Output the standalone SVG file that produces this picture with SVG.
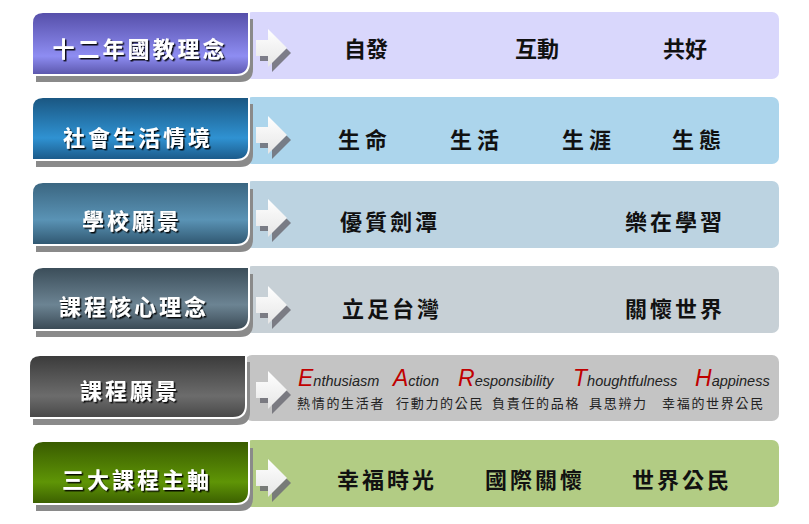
<svg xmlns="http://www.w3.org/2000/svg" width="809" height="524" viewBox="0 0 809 524">
<style>
.lbl{font-family:"Noto Sans CJK TC","Noto Sans CJK SC",sans-serif;font-weight:700;font-size:22px;fill:#ffffff;letter-spacing:3px;text-anchor:middle;dominant-baseline:central;filter:url(#ts)}
.itm{font-family:"Noto Sans CJK TC","Noto Sans CJK SC",sans-serif;font-weight:700;font-size:22px;fill:#111111;dominant-baseline:central}
.en{font-family:"Liberation Sans",Arial,sans-serif;font-style:italic;font-size:14.5px;fill:#222222}
.cap{font-size:23px;fill:#c00000}
.zh{font-family:"Noto Sans CJK TC","Noto Sans CJK SC",sans-serif;font-size:13px;fill:#222222;letter-spacing:1.7px;dominant-baseline:central}
.shadow{fill:#8a8a8a}
.edge{stroke:#ffffff;stroke-width:2}
</style>
<defs>
<filter id="ts" x="-10%" y="-30%" width="120%" height="160%">
<feDropShadow dx="1.5" dy="1.5" stdDeviation="0.6" flood-color="#000000" flood-opacity="0.9"/>
</filter>
<linearGradient id="g1" x1="0" y1="0" x2="0" y2="1"><stop offset="0" stop-color="#554ea8"/><stop offset="0.7" stop-color="#8e8df2"/><stop offset="1" stop-color="#5a55aa"/></linearGradient>
<linearGradient id="g2" x1="0" y1="0" x2="0" y2="1"><stop offset="0" stop-color="#1a5580"/><stop offset="0.65" stop-color="#2f92d2"/><stop offset="1" stop-color="#1b5887"/></linearGradient>
<linearGradient id="g3" x1="0" y1="0" x2="0" y2="1"><stop offset="0" stop-color="#3a6580"/><stop offset="0.6" stop-color="#5a93b5"/><stop offset="1" stop-color="#2f566f"/></linearGradient>
<linearGradient id="g4" x1="0" y1="0" x2="0" y2="1"><stop offset="0" stop-color="#3a4c58"/><stop offset="0.6" stop-color="#6c8493"/><stop offset="1" stop-color="#394853"/></linearGradient>
<linearGradient id="g5" x1="0" y1="0" x2="0" y2="1"><stop offset="0" stop-color="#3a3a3a"/><stop offset="0.65" stop-color="#6c6c6c"/><stop offset="1" stop-color="#474747"/></linearGradient>
<linearGradient id="g6" x1="0" y1="0" x2="0" y2="1"><stop offset="0" stop-color="#385a00"/><stop offset="0.65" stop-color="#5f9506"/><stop offset="1" stop-color="#3a5e00"/></linearGradient>
<linearGradient id="ga" x1="0" y1="0" x2="0" y2="1"><stop offset="0" stop-color="#ffffff"/><stop offset="1" stop-color="#e6e6e6"/></linearGradient>
<path id="box" d="M0,11 Q0,0 11,0 H217 V50 Q217,63 204,63 H0 Z"/>
<path id="arr" d="M0,-8 H12 V-19 L31,0 L12,19 V8 H0 Z"/>
</defs>
<rect width="809" height="524" fill="#ffffff"/>

<g id="bands">
<rect x="245" y="12" width="534" height="67" rx="7" fill="#d9d7fc"/>
<rect x="245" y="97" width="534" height="67" rx="7" fill="#acd5ec"/>
<rect x="245" y="181" width="534" height="67" rx="7" fill="#bcd3e1"/>
<rect x="245" y="266" width="534" height="67" rx="7" fill="#c7d0d6"/>
<rect x="245" y="355" width="534" height="66" rx="7" fill="#c4c4c4"/>
<rect x="245" y="440" width="534" height="67" rx="7" fill="#b2cc84"/>
</g>

<g id="node1">
<use href="#box" x="36" y="19" class="shadow"/>
<use href="#box" x="32" y="12" fill="url(#g1)" class="edge"/>
<text class="lbl" x="140" y="47">十二年國教理念</text>
</g>
<g id="node2">
<use href="#box" x="36" y="104" class="shadow"/>
<use href="#box" x="32" y="97" fill="url(#g2)" class="edge"/>
<text class="lbl" x="138" y="136">社會生活情境</text>
</g>
<g id="node3">
<use href="#box" x="36" y="189" class="shadow"/>
<use href="#box" x="32" y="182" fill="url(#g3)" class="edge"/>
<text class="lbl" x="132" y="219">學校願景</text>
</g>
<g id="node4">
<use href="#box" x="36" y="274" class="shadow"/>
<use href="#box" x="32" y="267" fill="url(#g4)" class="edge"/>
<text class="lbl" x="134" y="305">課程核心理念</text>
</g>
<g id="node5">
<use href="#box" x="33" y="362" class="shadow"/>
<use href="#box" x="29" y="355" fill="url(#g5)" class="edge"/>
<text class="lbl" x="130" y="389">課程願景</text>
</g>
<g id="node6">
<use href="#box" x="36" y="448" class="shadow"/>
<use href="#box" x="32" y="441" fill="url(#g6)" class="edge"/>
<text class="lbl" x="137" y="478">三大課程主軸</text>
</g>

<g id="connectors">
<g fill="#6e6e76" opacity="0.85">
<use href="#arr" x="260" y="53"/>
<use href="#arr" x="260" y="140"/>
<use href="#arr" x="260" y="223"/>
<use href="#arr" x="260" y="310"/>
<use href="#arr" x="260" y="395"/>
<use href="#arr" x="260" y="483"/>
</g>
<g fill="url(#ga)">
<use href="#arr" x="256" y="48"/>
<use href="#arr" x="256" y="135"/>
<use href="#arr" x="256" y="218"/>
<use href="#arr" x="256" y="305"/>
<use href="#arr" x="256" y="390"/>
<use href="#arr" x="256" y="478"/>
</g>
</g>

<g id="items">
<text class="itm" x="344" y="47">自發</text>
<text class="itm" x="515" y="47">互動</text>
<text class="itm" x="663" y="47">共好</text>
<text class="itm" x="338" y="138" letter-spacing="5">生命</text>
<text class="itm" x="450" y="138" letter-spacing="5">生活</text>
<text class="itm" x="562" y="138" letter-spacing="5">生涯</text>
<text class="itm" x="672" y="138" letter-spacing="5">生態</text>
<text class="itm" x="340" y="220" letter-spacing="3">優質劍潭</text>
<text class="itm" x="625" y="220" letter-spacing="3">樂在學習</text>
<text class="itm" x="342" y="307" letter-spacing="3">立足台灣</text>
<text class="itm" x="625" y="307" letter-spacing="3">關懷世界</text>
<text class="itm" x="337" y="478" letter-spacing="3">幸福時光</text>
<text class="itm" x="485" y="478" letter-spacing="3">國際關懷</text>
<text class="itm" x="632" y="478" letter-spacing="3">世界公民</text>
<text class="en" x="298" y="386"><tspan class="cap">E</tspan>nthusiasm</text>
<text class="en" x="393" y="386"><tspan class="cap">A</tspan>ction</text>
<text class="en" x="458" y="386"><tspan class="cap">R</tspan>esponsibility</text>
<text class="en" x="573" y="386"><tspan class="cap">T</tspan>houghtfulness</text>
<text class="en" x="695" y="386"><tspan class="cap">H</tspan>appiness</text>
<text class="zh" x="297" y="402">熱情的生活者</text>
<text class="zh" x="396" y="402">行動力的公民</text>
<text class="zh" x="492" y="402">負責任的品格</text>
<text class="zh" x="589" y="402">具思辨力</text>
<text class="zh" x="662" y="402">幸福的世界公民</text>
</g>
</svg>
